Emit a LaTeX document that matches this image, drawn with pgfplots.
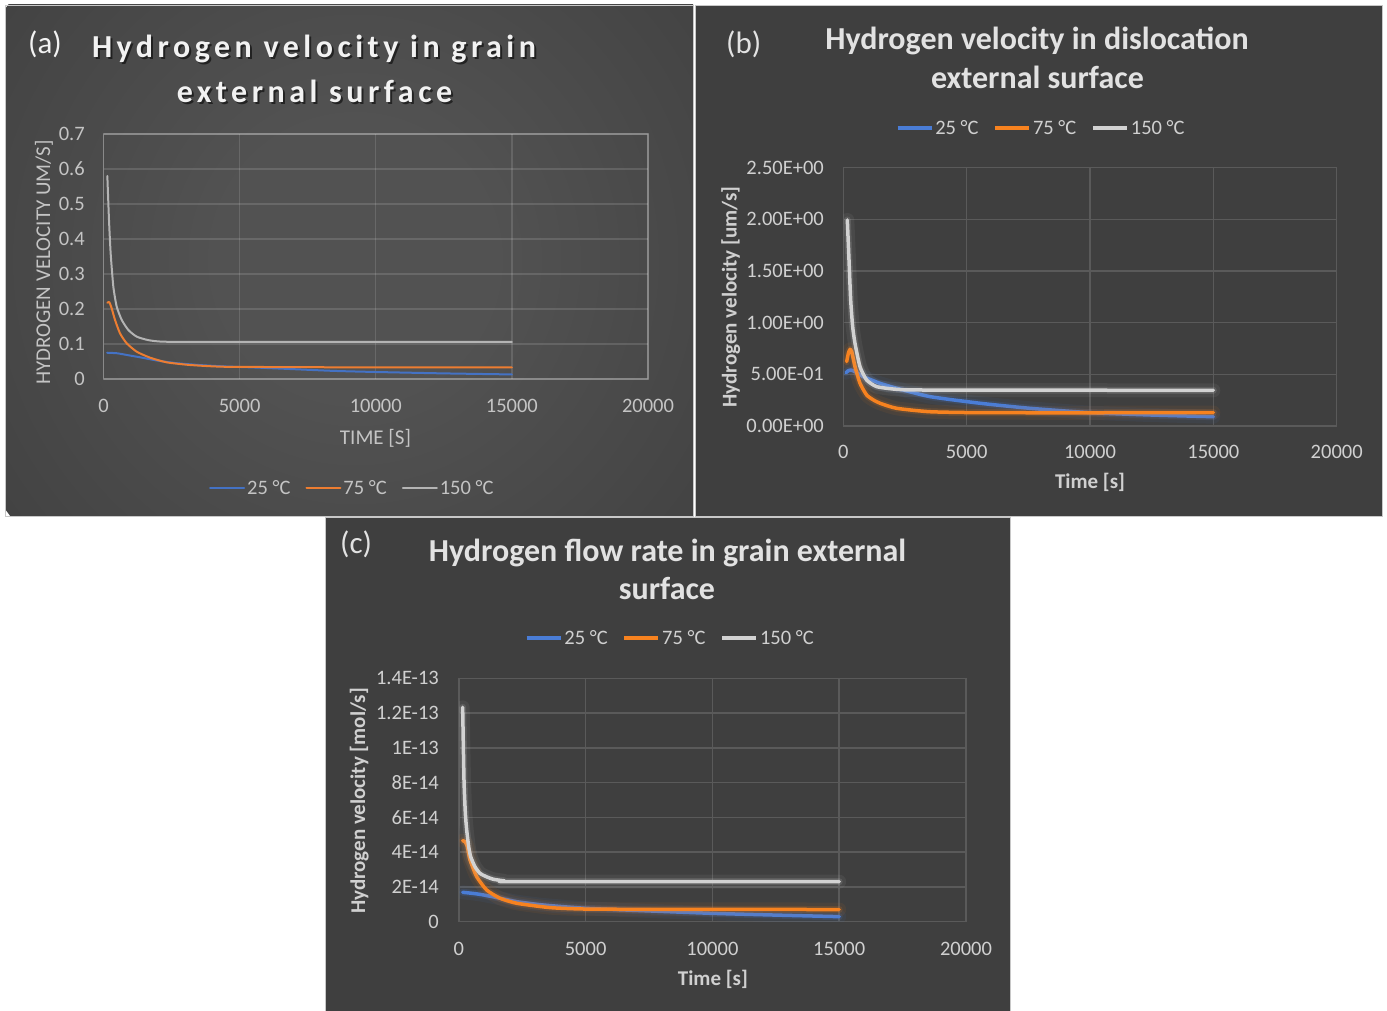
\documentclass[border=0pt]{standalone}
\usepackage{fontspec}
\setmainfont{Carlito}
\newfontfamily\spacedfont[LetterSpace=14]{Carlito}
\usepackage{pgfplots}
\pgfplotsset{compat=1.18}
\usepackage{pgfplotstable}

\definecolor{bgB}{HTML}{3F3F3F}
\definecolor{a0}{HTML}{525252}
\definecolor{a1}{HTML}{434343}
\definecolor{a2}{HTML}{333333}
\definecolor{a3}{HTML}{232323}
\definecolor{tickA}{HTML}{C4C4C4}
\definecolor{titleA}{HTML}{F2F2F2}
\definecolor{tickB}{HTML}{D0D0D0}
\definecolor{titleB}{HTML}{E2E2E2}
\definecolor{gridB}{HTML}{5A5A5A}
\definecolor{blueA}{HTML}{4472C4}
\definecolor{orangeA}{HTML}{ED7D31}
\definecolor{grayA}{HTML}{B4B4B4}
\definecolor{blueB}{HTML}{4A7DD6}
\definecolor{orangeB}{HTML}{F7821F}
\definecolor{grayB}{HTML}{D2D2D2}
\definecolor{panelline}{HTML}{C8C8C8}

\pgfdeclareradialshading{panelA}{\pgfpoint{0bp}{0bp}}{color(0bp)=(a0); color(8bp)=(a0); color(25bp)=(a1); color(38bp)=(a2); color(50bp)=(a3)}

\newcommand{\tickfont}{\fontsize{20.5}{24}\selectfont}
\newcommand{\labfont}{\fontsize{21}{25}\selectfont}
\newcommand{\titfont}{\fontsize{32}{38}\selectfont\bfseries}

% ---------- data (a): hydrogen velocity in grain external surface [um/s]
\pgfplotstableread{
t v
130 0.075
500 0.0735
900 0.068
1340 0.062
1950 0.053
2700 0.045
3500 0.040
4400 0.036
5500 0.033
7000 0.028
8500 0.023
10000 0.020
12500 0.016
15000 0.013
}\aBlue
\pgfplotstableread{
t v
141 0.218
214 0.2195
300 0.202
422 0.169
606 0.1305
851 0.102
1219 0.078
1708 0.061
2320 0.0476
3177 0.040
4400 0.035
6850 0.034
10000 0.033
15000 0.033
}\aOrange
\pgfplotstableread{
t v
141 0.58
202 0.454
263 0.359
361 0.264
484 0.207
668 0.169
912 0.140
1219 0.121
1646 0.111
2187 0.1066
4000 0.106
15000 0.106
}\aGray
% ---------- data (b): hydrogen velocity in dislocation external surface [um/s]
\pgfplotstableread{
t v
110 0.516
200 0.535
299 0.542
420 0.532
542 0.516
812 0.477
1150 0.445
1488 0.413
2164 0.365
3515 0.284
5543 0.220
7570 0.171
10000 0.129
12500 0.106
15000 0.090
}\bBlue
\pgfplotstableread{
t v
137 0.623
205 0.703
272 0.742
340 0.72
474 0.574
677 0.413
947 0.30
1200 0.255
1488 0.22
2164 0.171
3515 0.138
5543 0.129
10000 0.128
15000 0.130
}\bOrange
\pgfplotstableread{
t v
163 1.994
231 1.607
299 1.22
380 0.961
474 0.80
677 0.574
947 0.445
1353 0.381
2164 0.355
3515 0.348
15000 0.345
}\bGray
% ---------- data (c): hydrogen flow rate [1E-14 mol/s]
\pgfplotstableread{
t v
154 1.69
600 1.62
968 1.54
1625 1.35
2283 1.15
3330 0.96
5000 0.77
7500 0.62
10000 0.48
12500 0.38
15000 0.29
}\cBlue
\pgfplotstableread{
t v
152 4.66
244 4.60
336 4.32
442 3.55
705 2.59
1100 1.82
1625 1.35
2283 1.06
3596 0.81
4910 0.73
7500 0.71
15000 0.70
}\cOrange
\pgfplotstableread{
t v
152 12.33
205 8.15
258 6.24
311 5.28
390 4.32
468 3.74
639 3.16
836 2.78
1100 2.58
1361 2.44
1800 2.35
2283 2.30
15000 2.30
}\cGray

\pgfplotsset{
  base/.style={scale only axis, anchor=south west, xmin=0, xmax=20000, ymin=0,
    scaled ticks=false,
    xtick={0,5000,10000,15000,20000}, xticklabels={0,5000,10000,15000,20000},
    major tick length=0pt, grid=major,
    tick label style={font=\tickfont, inner sep=0pt},
    xticklabel style={anchor=base, yshift=-33.5pt},
    yticklabel style={anchor=east},
    legend columns=3, legend cell align=left,
    every axis plot/.append style={line join=round, line cap=round, smooth, tension=0.35}},
}

\begin{document}
\begin{tikzpicture}[x=1pt,y=1pt]
\path[use as bounding box, fill=white] (0,0) rectangle (1387,1011);

% panel backgrounds
\begin{scope}
\clip (5,495) rectangle (693,1006);
\shade[shading=panelA] (355,752) circle (430);
\end{scope}
\fill[bgB] (695,495) rectangle (1382,1006);
\fill[bgB] (325,0) rectangle (1010,494);
\draw[panelline, line width=0.8pt] (5,495) rectangle (693,1006);
\draw[panelline, line width=0.8pt] (695,495) rectangle (1382,1006);
\draw[panelline, line width=0.8pt] (325,-1) -- (325,494) -- (1010,494) -- (1010,-1);

% ================= (a)
\begin{axis}[base, at={(103.5pt,632pt)}, width=544.5pt, height=245pt, ymax=0.7,
  ytick={0,0.1,0.2,0.3,0.4,0.5,0.6,0.7},
  yticklabels={0,0.1,0.2,0.3,0.4,0.5,0.6,0.7},
  tick label style={text=tickA},
  yticklabel style={xshift=-18.5pt},
  major grid style={draw=white, draw opacity=0.13, line width=1.3pt},
  axis line style={draw=white, draw opacity=0.25, line width=1.3pt},
  legend style={draw=none, fill=none, text=tickA, font=\tickfont,
    at={(0.457,-0.445)}, anchor=center,
    nodes={inner xsep=2pt, inner ysep=0pt},
    /tikz/every even column/.append style={column sep=13pt}},
  legend image code/.code={\draw[#1, line width=2pt] (0pt,0pt) -- (34pt,0pt);},
]
\addplot[blueA, line width=2pt] table[x=t,y=v] {\aBlue};
\addlegendentry{25 °C}
\addplot[orangeA, line width=2pt] table[x=t,y=v] {\aOrange};
\addlegendentry{75 °C}
\addplot[grayA, line width=2pt] table[x=t,y=v] {\aGray};
\addlegendentry{150 °C}
\end{axis}

\node[anchor=base west, inner sep=0, text=titleA, font=\fontsize{31}{36}\selectfont] at (28,957.5) {(a)};
\node[anchor=base, inner sep=0, text=black, opacity=0.55, font=\spacedfont\titfont] at (316,951.5) {Hydrogen velocity in grain};
\node[anchor=base, inner sep=0, text=titleA, font=\spacedfont\titfont] at (314,953.5) {Hydrogen velocity in grain};
\node[anchor=base, inner sep=0, text=black, opacity=0.55, font=\spacedfont\titfont] at (316.5,906.5) {external surface};
\node[anchor=base, inner sep=0, text=titleA, font=\spacedfont\titfont] at (314.5,908.5) {external surface};
\node[anchor=base, inner sep=0, text=tickA, font=\labfont] at (375.5,566) {TIME [S]};
\node[anchor=base, inner sep=0, rotate=90, text=tickA, font=\labfont] at (50,748.5) {HYDROGEN VELOCITY UM/S]};

% ================= (b)
\begin{axis}[base, at={(843.3pt,585pt)}, width=493.4pt, height=258.3pt, ymax=2.5,
  ytick={0,0.5,1,1.5,2,2.5},
  yticklabels={0.00E+00,5.00E-01,1.00E+00,1.50E+00,2.00E+00,2.50E+00},
  tick label style={text=tickB},
  xticklabel style={yshift=1pt},
  yticklabel style={xshift=-19.3pt},
  major grid style={draw=gridB, line width=1.5pt},
  axis line style={draw=gridB, line width=1.5pt},
  legend style={draw=none, fill=none, text=tickB, font=\tickfont,
    at={(0.401,1.154)}, anchor=center,
    nodes={inner xsep=2pt, inner ysep=0pt},
    /tikz/every even column/.append style={column sep=13pt}},
  legend image code/.code={\draw[#1, line width=3.5pt, line cap=butt] (0pt,0pt) -- (34pt,0pt);},
]
\addplot[blueB, line width=14pt, opacity=0.07, forget plot] table[x=t,y=v] {\bBlue};
\addplot[blueB, line width=7pt, opacity=0.15, forget plot] table[x=t,y=v] {\bBlue};
\addplot[blueB, line width=3.5pt] table[x=t,y=v] {\bBlue};
\addlegendentry{25 °C}
\addplot[orangeB, line width=14pt, opacity=0.07, forget plot] table[x=t,y=v] {\bOrange};
\addplot[orangeB, line width=7pt, opacity=0.15, forget plot] table[x=t,y=v] {\bOrange};
\addplot[orangeB, line width=3.5pt] table[x=t,y=v] {\bOrange};
\addlegendentry{75 °C}
\addplot[grayB, line width=14pt, opacity=0.07, forget plot] table[x=t,y=v] {\bGray};
\addplot[grayB, line width=7pt, opacity=0.15, forget plot] table[x=t,y=v] {\bGray};
\addplot[grayB, line width=3.5pt] table[x=t,y=v] {\bGray};
\addlegendentry{150 °C}
\end{axis}

\node[anchor=base west, inner sep=0, text=titleB, font=\fontsize{31}{36}\selectfont] at (726,957.5) {(b)};
\node[anchor=base, inner sep=0, text=titleB, font=\titfont] at (1037,961) {Hydrogen velocity in dislocation};
\node[anchor=base, inner sep=0, text=titleB, font=\titfont] at (1037.5,922.7) {external surface};
\node[anchor=base, inner sep=0, text=tickB, font=\labfont\bfseries] at (1090,522) {Time [s]};
\node[anchor=base, inner sep=0, rotate=90, text=tickB, font=\labfont\bfseries] at (736.5,714) {Hydrogen velocity [um/s]};

% ================= (c)
\begin{axis}[base, at={(458.8pt,89.3pt)}, width=507.2pt, height=243.4pt, ymax=14,
  ytick={0,2,4,6,8,10,12,14},
  yticklabels={0,2E-14,4E-14,6E-14,8E-14,1E-13,1.2E-13,1.4E-13},
  tick label style={text=tickB},
  xticklabel style={yshift=-0.3pt},
  yticklabel style={xshift=-19.8pt},
  major grid style={draw=gridB, line width=1.5pt},
  axis line style={draw=gridB, line width=1.5pt},
  legend style={draw=none, fill=none, text=tickB, font=\tickfont,
    at={(0.417,1.166)}, anchor=center,
    nodes={inner xsep=2pt, inner ysep=0pt},
    /tikz/every even column/.append style={column sep=13pt}},
  legend image code/.code={\draw[#1, line width=3.5pt, line cap=butt] (0pt,0pt) -- (34pt,0pt);},
]
\addplot[blueB, line width=14pt, opacity=0.07, forget plot] table[x=t,y=v] {\cBlue};
\addplot[blueB, line width=7pt, opacity=0.15, forget plot] table[x=t,y=v] {\cBlue};
\addplot[blueB, line width=3.5pt] table[x=t,y=v] {\cBlue};
\addlegendentry{25 °C}
\addplot[orangeB, line width=14pt, opacity=0.07, forget plot] table[x=t,y=v] {\cOrange};
\addplot[orangeB, line width=7pt, opacity=0.15, forget plot] table[x=t,y=v] {\cOrange};
\addplot[orangeB, line width=3.5pt] table[x=t,y=v] {\cOrange};
\addlegendentry{75 °C}
\addplot[grayB, line width=14pt, opacity=0.07, forget plot] table[x=t,y=v] {\cGray};
\addplot[grayB, line width=7pt, opacity=0.15, forget plot] table[x=t,y=v] {\cGray};
\addplot[grayB, line width=3.5pt] table[x=t,y=v] {\cGray};
\addlegendentry{150 °C}
\end{axis}

\node[anchor=base west, inner sep=0, text=titleB, font=\fontsize{31}{36}\selectfont] at (340,457) {(c)};
\node[anchor=base, inner sep=0, text=titleB, font=\titfont] at (667.6,449.3) {Hydrogen flow rate in grain external};
\node[anchor=base, inner sep=0, text=titleB, font=\titfont] at (667,411) {surface};
\node[anchor=base, inner sep=0, text=tickB, font=\labfont\bfseries] at (712.9,25) {Time [s]};
\node[anchor=base, inner sep=0, rotate=90, text=tickB, font=\labfont\bfseries] at (365,210) {Hydrogen velocity [mol/s]};
\end{tikzpicture}
\end{document}
